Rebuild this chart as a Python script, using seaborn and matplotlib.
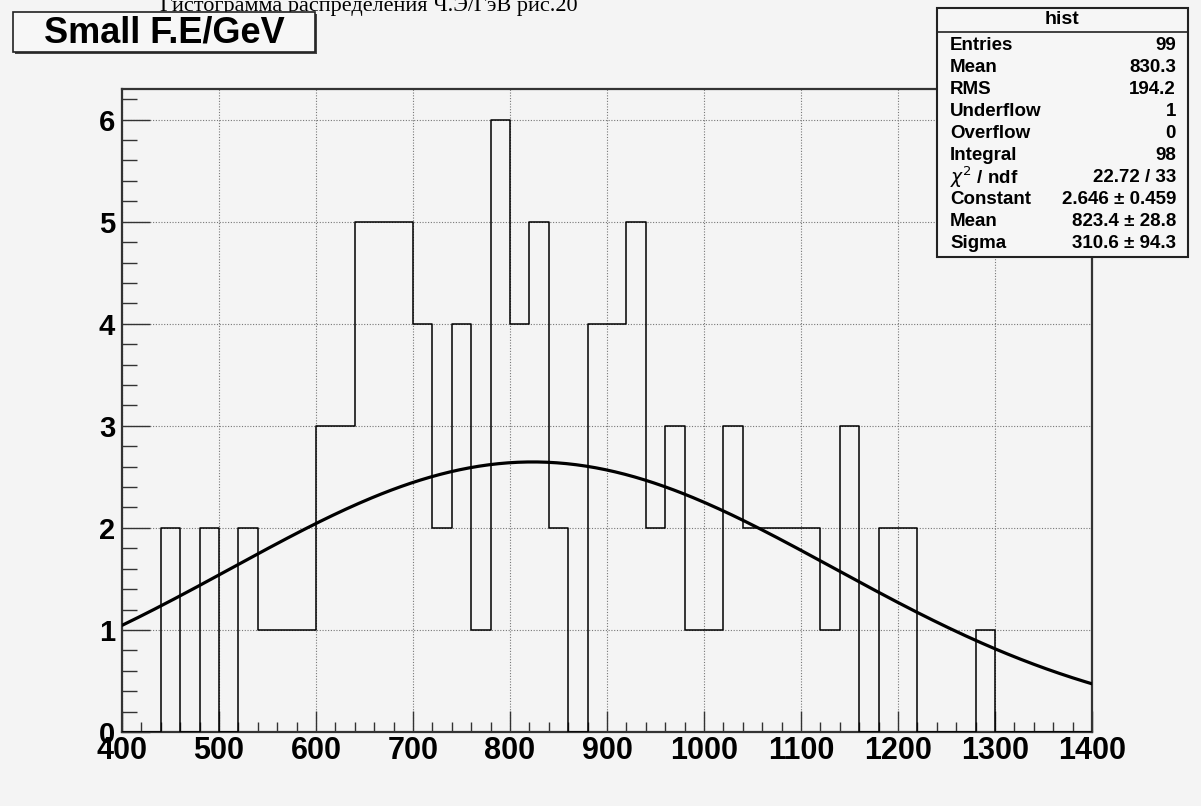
import numpy as np
import pandas as pd
import seaborn as sns
import matplotlib
matplotlib.use("Agg")
import matplotlib.pyplot as plt
from matplotlib.patches import Rectangle
from matplotlib.lines import Line2D
from matplotlib.ticker import MultipleLocator

# ---------------- data ----------------
bin_edges = list(range(400, 1401, 20))          # 50 bins of width 20
counts = [0, 0, 2, 0, 2, 0, 2, 1, 1, 1,          # 400-600
          3, 3, 5, 5, 5, 4, 2, 4, 1, 6,          # 600-800
          4, 5, 2, 0, 4, 4, 5, 2, 3, 1,          # 800-1000
          1, 3, 2, 2, 2, 2, 1, 3, 0, 2,          # 1000-1200
          2, 0, 0, 0, 1, 0, 0, 0, 0, 0]          # 1200-1400
fit_constant = 2.646
fit_mean = 823.4
fit_sigma = 310.6

stat_labels = ["Entries", "Mean", "RMS", "Underflow", "Overflow", "Integral",
               r"$\chi^{2}$ / ndf", "Constant", "Mean", "Sigma"]
stat_values = ["99", "830.3", "194.2", "1", "0", "98",
               "22.72 / 33", "2.646 \u00b1 0.459", "823.4 \u00b1 28.8", "310.6 \u00b1 94.3"]

x_ticks = list(range(400, 1401, 100))
y_ticks = [0, 1, 2, 3, 4, 5, 6]

top_title = "Гистограмма распределения Ч.Э/ГэВ рис.20"
hist_title = "Small F.E/GeV"

# ---------------- style ----------------
bg = "#f4f4f4"
sns.set_theme(style="white")
plt.rcParams["font.family"] = ["Liberation Sans", "DejaVu Sans"]
plt.rcParams["mathtext.fontset"] = "dejavusans"

W, H = 1201, 806
fig = plt.figure(figsize=(W / 100, H / 100), dpi=100, facecolor=bg)
ax = fig.add_axes([122 / W, 1 - 732 / H, (1092 - 122) / W, (732 - 89) / H])
ax.set_facecolor(bg)

centers = [(a + b) / 2 for a, b in zip(bin_edges[:-1], bin_edges[1:])]
df = pd.DataFrame({"x": centers, "w": counts})
sns.histplot(data=df, x="x", weights="w", bins=bin_edges, element="step",
             fill=False, color="black", linewidth=1.1, ax=ax, zorder=3)

xs = np.linspace(400, 1400, 300)
fit_df = pd.DataFrame({"x": xs,
                       "y": fit_constant * np.exp(-0.5 * ((xs - fit_mean) / fit_sigma) ** 2)})
sns.lineplot(data=fit_df, x="x", y="y", color="black", linewidth=2.3, ax=ax, zorder=4)

ax.set_xlim(400, 1400)
ax.set_ylim(0, 6.3)
ax.set_xlabel("")
ax.set_ylabel("")

ax.set_xticks(x_ticks)
ax.set_yticks(y_ticks)
ax.set_xticklabels([str(t) for t in x_ticks])
ax.set_yticklabels([str(t) for t in y_ticks])
ax.xaxis.set_minor_locator(MultipleLocator(20))
ax.yaxis.set_minor_locator(MultipleLocator(0.2))

ax.tick_params(axis="x", which="major", direction="in", length=15, width=1.0,
               color="#333333", pad=3, labelsize=22, labelcolor="black",
               bottom=True, top=False)
ax.tick_params(axis="x", which="minor", direction="in", length=7.5, width=1.0,
               color="#333333", bottom=True, top=False)
ax.tick_params(axis="y", which="major", direction="in", length=20, width=1.0,
               color="#333333", pad=5, labelsize=21, labelcolor="black",
               left=True, right=False)
ax.tick_params(axis="y", which="minor", direction="in", length=11, width=1.0,
               color="#333333", left=True, right=False)
for lab in ax.get_xticklabels() + ax.get_yticklabels():
    lab.set_fontweight("bold")

ax.grid(True, which="major", linestyle=(0, (1, 1.5)), color="#777777", linewidth=0.8)
ax.set_axisbelow(True)

for side in ["left", "bottom", "right", "top"]:
    ax.spines[side].set_visible(True)
    ax.spines[side].set_color("#333333")
    ax.spines[side].set_linewidth(1.6)

# ---------------- texts / boxes ----------------
def fx(px):
    return px / W

def fy(py):
    return 1 - py / H

fig.text(fx(160), fy(11), top_title, family=["Liberation Serif", "DejaVu Serif"],
         fontsize=16, ha="left", va="baseline", color="black")

# title box with shadow
fig.patches.append(Rectangle((fx(15), fy(54)), fx(316 - 14), 40 / H,
                             transform=fig.transFigure, facecolor="#444444",
                             edgecolor="none", zorder=5))
fig.patches.append(Rectangle((fx(13), fy(52)), fx(316 - 14), 40 / H,
                             transform=fig.transFigure, facecolor="#f7f7f7",
                             edgecolor="#222222", linewidth=1.2, zorder=6))
fig.text(fx(164), fy(33), hist_title, fontsize=26, fontweight="bold",
         ha="center", va="center", color="black", zorder=7)

# stats box
bx0, bx1, by0, by1 = 937, 1188, 8, 257
fig.patches.append(Rectangle((fx(bx0), fy(by1)), fx(bx1 - bx0), (by1 - by0) / H,
                             transform=fig.transFigure, facecolor="#f6f6f6",
                             edgecolor="#222222", linewidth=1.5, zorder=10))
fig.lines.append(Line2D([fx(bx0), fx(bx1)], [fy(32), fy(32)],
                        transform=fig.transFigure, color="#222222",
                        linewidth=1.2, zorder=11))
fig.text(fx((bx0 + bx1) / 2), fy(19), "hist", fontsize=14, fontweight="bold",
         ha="center", va="center", color="black", zorder=12)
row_y0, row_dy = 45, 22.1
for i, (lab, val) in enumerate(zip(stat_labels, stat_values)):
    yy = fy(row_y0 + i * row_dy)
    fig.text(fx(950), yy, lab, fontsize=13.5, fontweight="bold",
             ha="left", va="center", color="black", zorder=12)
    fig.text(fx(1176), yy, val, fontsize=13.5, fontweight="bold",
             ha="right", va="center", color="black", zorder=12)

fig.savefig("out.png", dpi=100, facecolor=bg)
